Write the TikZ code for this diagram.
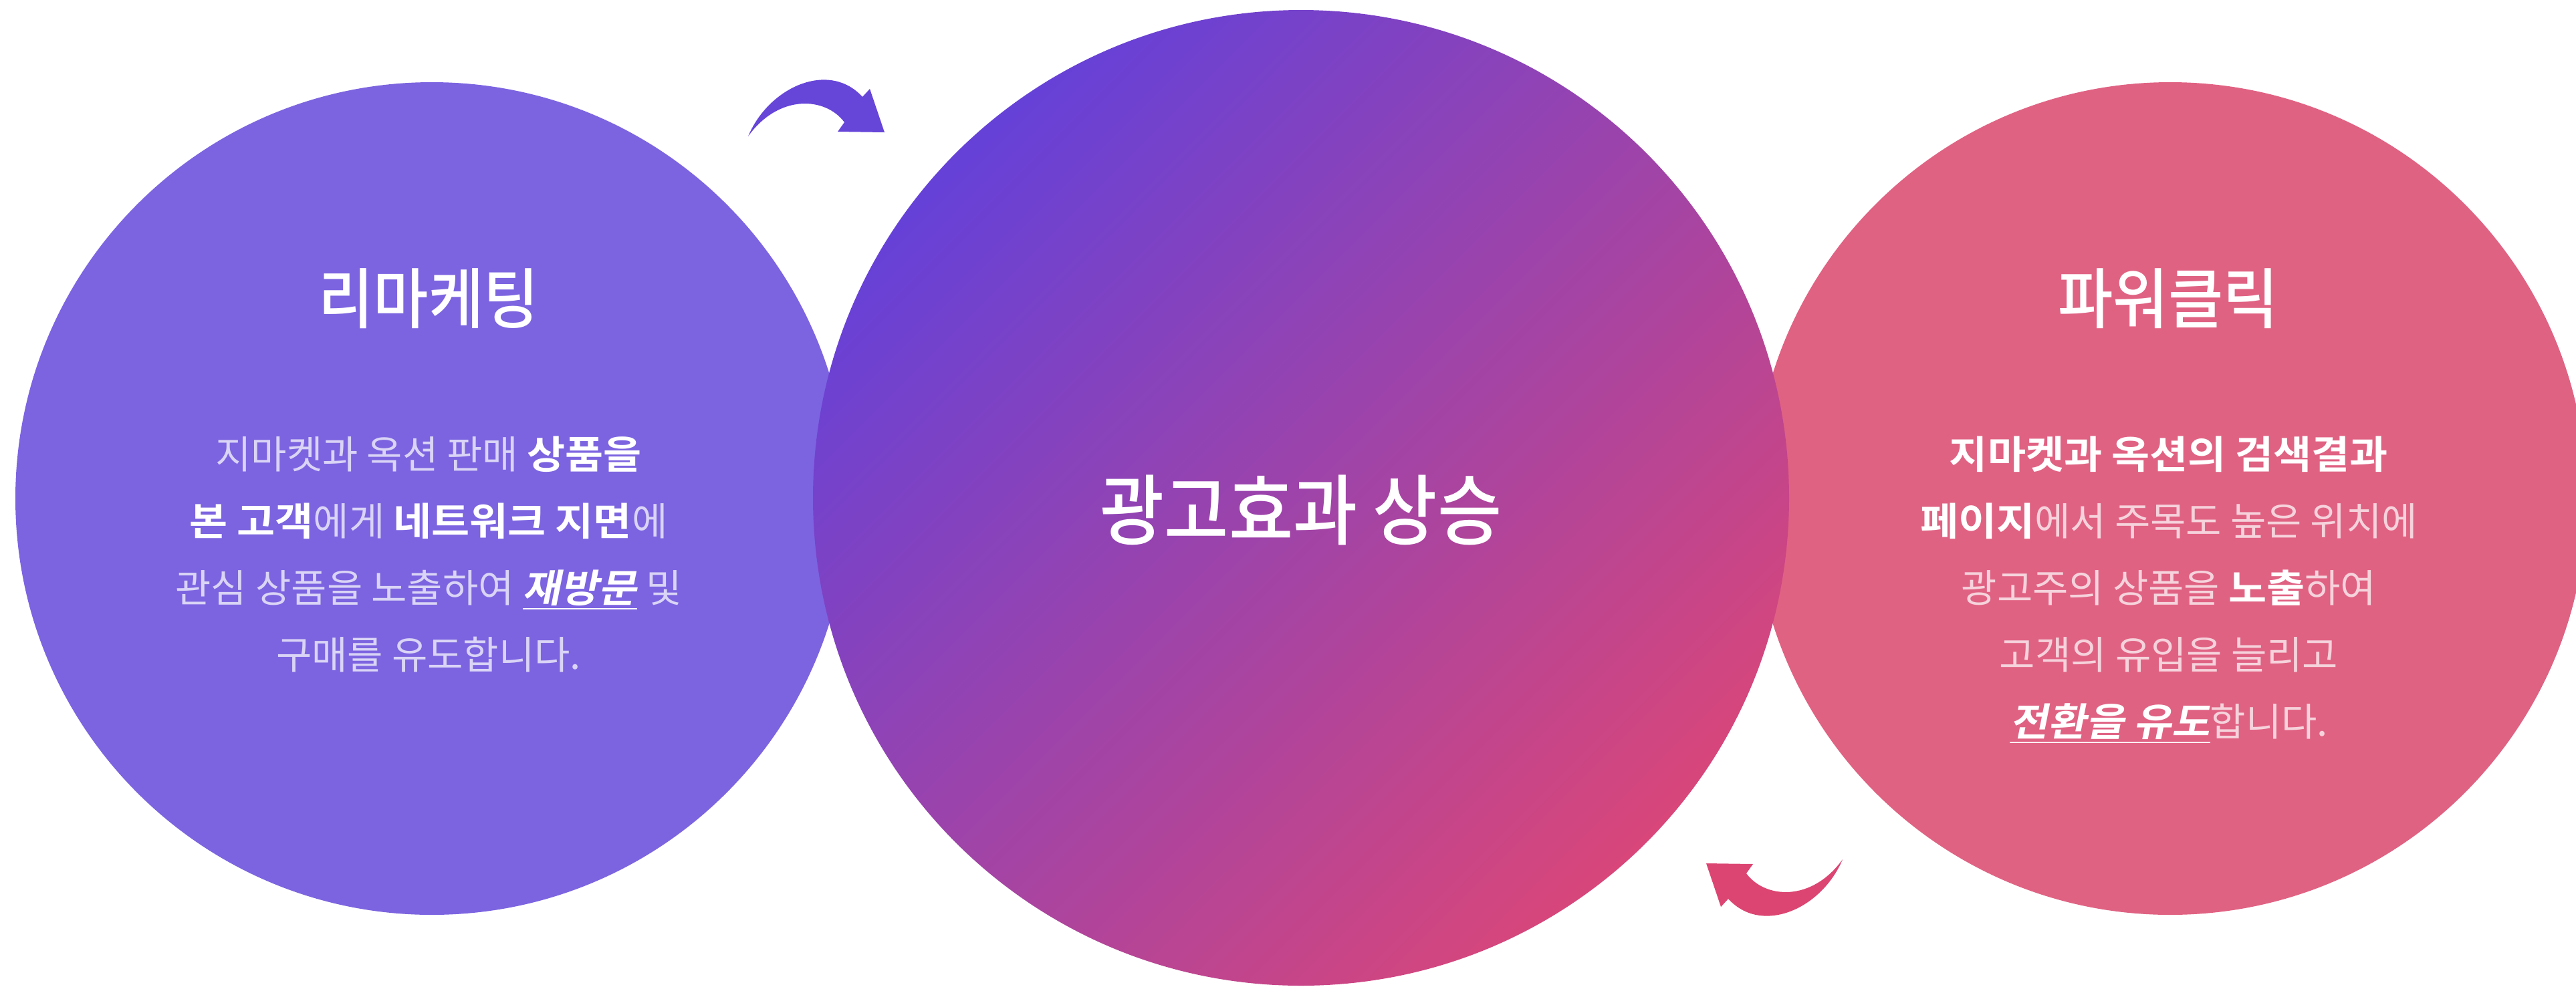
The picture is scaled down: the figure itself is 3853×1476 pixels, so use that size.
\documentclass[tikz,border=0pt]{standalone}
\usepackage{fontspec}
\usepackage{tikz}
\newfontfamily\krfont{Noto Sans CJK KR}[
  BoldFont={Noto Sans CJK KR Bold},
  BoldFeatures={FakeStretch=1.07},
  BoldItalicFont={Noto Sans CJK KR Bold},
  BoldItalicFeatures={FakeSlant=0.2,FakeStretch=1.07}]
\newfontfamily\krmed{Noto Sans CJK KR Medium}[FakeStretch=0.91]
\definecolor{rmfill}{HTML}{7C64E0}
\definecolor{pcfill}{HTML}{E06283}
\definecolor{boostfrom}{HTML}{6541D8}
\definecolor{boostto}{HTML}{D8467A}
\definecolor{rmarrow}{HTML}{6645D9}
\definecolor{pcarrow}{HTML}{DC4572}
\newcommand\krbold[1]{{\color{white}\bfseries #1}}
\newcommand\krstress[1]{{\color{white}\underline{\bfseries\itshape #1}}}
\newcommand\bendarrow{(1119,204) .. controls (1150,130) and (1240,90) .. (1290,145) -- (1301,133) -- (1323,198) -- (1253,197) -- (1263,183) .. controls (1235,145) and (1165,140) .. cycle}

\begin{document}
\begin{tikzpicture}[x=0.1mm,y=-0.1mm,
    bubble/.style={circle,inner sep=0pt,minimum size=124.6mm},
    heading/.style={font=\krmed\fontsize{28}{34}\selectfont,text=white,inner sep=0pt,anchor=base},
    textline/.style={font=\krfont\fontsize{16.5}{20}\selectfont,inner sep=0pt,anchor=base}]
    \useasboundingbox (0,0) rectangle (3853,1476);
    \node[bubble,fill=rmfill] (remarketing) at (646,746) {};
    \node[bubble,fill=pcfill] (powerclick) at (3246,746) {};
    \node[bubble,minimum size=146mm,left color=boostfrom,right color=boostto,shading angle=45] (boost) at (1946,745) {};
    \fill[rmarrow] \bendarrow;
    \fill[pcarrow,rotate around={180:(1937.5,745)}] \bendarrow;
    \node[heading] (rmtitle) at (641,483) {리마케팅};
    \node[heading] (pctitle) at (3243,483) {파워클릭};
    \node[heading,font=\krmed\fontsize{32.7}{38}\selectfont] (boosttext) at (1946,806) {광고효과 상승};
    \foreach \t [count=\i] in {
        {지마켓과 옥션 판매 \krbold{상품을}},
        {\krbold{본 고객}에게 \krbold{네트워크 지면}에},
        {관심 상품을 노출하여 \krstress{재방문} 및},
        {구매를 유도합니다.}
    }
    \node[textline,text=white!72!rmfill] (rm\i) at (641,601+100*\i) {\t};
    \foreach \t [count=\i] in {
        {\krbold{지마켓과 옥션의 검색결과}},
        {\krbold{페이지}에서 주목도 높은 위치에},
        {광고주의 상품을 \krbold{노출}하여},
        {고객의 유입을 늘리고},
        {\krstress{전환을 유도}합니다.}
    }
    \node[textline,text=white!72!pcfill] (pc\i) at (3244,601+100*\i) {\t};
\end{tikzpicture}
\end{document}
